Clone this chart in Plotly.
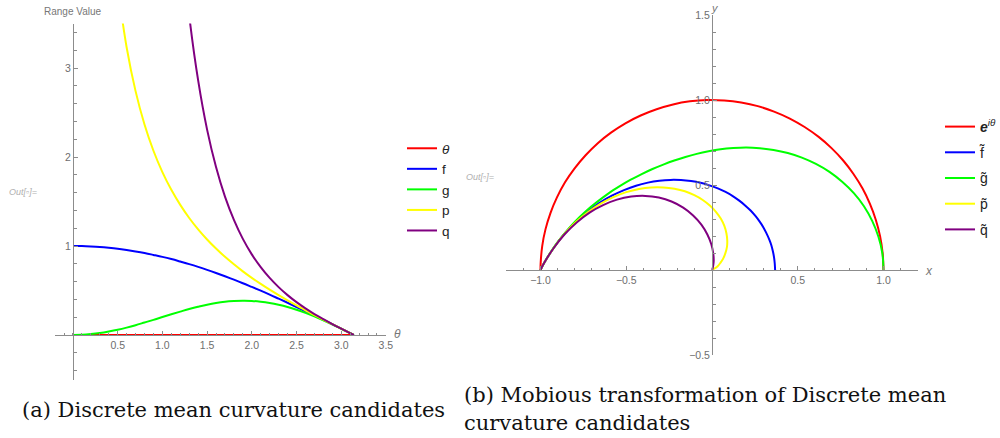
import plotly.graph_objects as go

# ---------------- data: (a) candidates vs theta ----------------
theta = [0, 0.1, 0.2, 0.3, 0.4, 0.5, 0.6, 0.7, 0.8, 0.9, 1.0, 1.1, 1.2, 1.3, 1.4, 1.5,
         1.6, 1.7, 1.8, 1.9, 2.0, 2.1, 2.2, 2.3, 2.4, 2.5, 2.6, 2.7, 2.8, 2.9, 3.0, 3.1, 3.1416]
theta_zero = [0] * 33
f_vals = [1, 0.999, 0.995, 0.989, 0.98, 0.969, 0.955, 0.939, 0.921, 0.9, 0.878, 0.853, 0.825,
          0.796, 0.765, 0.732, 0.697, 0.66, 0.622, 0.582, 0.54, 0.498, 0.454, 0.408, 0.362,
          0.315, 0.267, 0.219, 0.17, 0.121, 0.071, 0.021, 0]
g_vals = [0, 0.002, 0.01, 0.022, 0.039, 0.059, 0.083, 0.11, 0.14, 0.17, 0.202, 0.233, 0.263,
          0.292, 0.317, 0.34, 0.359, 0.373, 0.381, 0.385, 0.383, 0.374, 0.36, 0.34, 0.315,
          0.284, 0.248, 0.209, 0.165, 0.119, 0.07, 0.021, 0]
theta_p = [0.5, 0.6, 0.7, 0.8, 0.9, 1.0, 1.1, 1.2, 1.3, 1.4, 1.5, 1.6, 1.7, 1.8, 1.9, 2.0,
           2.1, 2.2, 2.3, 2.4, 2.5, 2.6, 2.7, 2.8, 2.9, 3.0, 3.1, 3.1416]
p_vals = [3.916, 3.233, 2.74, 2.365, 2.07, 1.83, 1.631, 1.462, 1.315, 1.187, 1.073, 0.971,
          0.878, 0.794, 0.715, 0.642, 0.574, 0.509, 0.448, 0.389, 0.332, 0.278, 0.224, 0.173,
          0.121, 0.071, 0.021, 0]
theta_q = [1.2, 1.3, 1.4, 1.5, 1.6, 1.7, 1.8, 1.9, 2.0, 2.1, 2.2, 2.3, 2.4, 2.5, 2.6, 2.7,
           2.8, 2.9, 3.0, 3.1, 3.1416]
q_vals = [4.587, 3.589, 2.86, 2.308, 1.887, 1.555, 1.294, 1.08, 0.906, 0.763, 0.641, 0.538,
          0.448, 0.369, 0.299, 0.235, 0.178, 0.123, 0.071, 0.021, 0]

# ---------------- data: (b) transformed curves in the plane ----------------
red_x = [1, 0.995, 0.98, 0.955, 0.921, 0.878, 0.825, 0.765, 0.697, 0.622, 0.54, 0.454, 0.362,
         0.267, 0.17, 0.071, -0.029, -0.129, -0.227, -0.323, -0.416, -0.505, -0.589, -0.666,
         -0.737, -0.801, -0.857, -0.904, -0.942, -0.971, -0.99, -0.999, -1]
red_y = [0, 0.1, 0.199, 0.296, 0.389, 0.479, 0.565, 0.644, 0.717, 0.783, 0.841, 0.891, 0.932,
         0.964, 0.985, 0.997, 1, 0.992, 0.974, 0.946, 0.909, 0.863, 0.808, 0.746, 0.675, 0.598,
         0.516, 0.427, 0.335, 0.239, 0.141, 0.042, 0]
blue_x = [0.368, 0.366, 0.362, 0.355, 0.346, 0.333, 0.317, 0.299, 0.277, 0.253, 0.225, 0.193,
          0.159, 0.121, 0.079, 0.034, -0.015, -0.067, -0.122, -0.181, -0.242, -0.307, -0.374,
          -0.443, -0.513, -0.584, -0.656, -0.726, -0.795, -0.861, -0.922, -0.979, -1]
blue_y = [0, 0.037, 0.073, 0.11, 0.146, 0.182, 0.217, 0.252, 0.286, 0.318, 0.35, 0.38, 0.408,
          0.435, 0.459, 0.48, 0.498, 0.513, 0.523, 0.529, 0.53, 0.525, 0.514, 0.496, 0.47,
          0.437, 0.395, 0.343, 0.283, 0.212, 0.131, 0.041, 0]
green_x = [1, 0.993, 0.97, 0.934, 0.886, 0.827, 0.759, 0.685, 0.606, 0.524, 0.442, 0.359,
           0.279, 0.2, 0.124, 0.05, -0.02, -0.089, -0.155, -0.22, -0.284, -0.347, -0.41,
           -0.474, -0.538, -0.603, -0.668, -0.734, -0.799, -0.862, -0.923, -0.979, -1]
green_y = [0, 0.1, 0.197, 0.289, 0.375, 0.452, 0.519, 0.577, 0.624, 0.661, 0.688, 0.706, 0.716,
           0.72, 0.717, 0.71, 0.698, 0.683, 0.665, 0.644, 0.62, 0.594, 0.564, 0.531, 0.493,
           0.451, 0.402, 0.347, 0.284, 0.212, 0.132, 0.041, 0]
yellow_x = [0.001, 0.007, 0.017, 0.033, 0.049, 0.065, 0.078, 0.087, 0.089, 0.084, 0.072, 0.052,
            0.024, -0.011, -0.054, -0.103, -0.158, -0.219, -0.284, -0.354, -0.426, -0.5,
            -0.575, -0.649, -0.722, -0.793, -0.86, -0.922, -0.979, -1]
yellow_y = [0, 0.003, 0.01, 0.022, 0.042, 0.067, 0.099, 0.135, 0.174, 0.216, 0.259, 0.301,
            0.341, 0.378, 0.412, 0.44, 0.463, 0.478, 0.486, 0.486, 0.477, 0.458, 0.429, 0.391,
            0.341, 0.282, 0.212, 0.131, 0.041, 0]
purple_x = [0, 0.001, 0.004, 0.007, 0.01, 0.007, -0.004, -0.027, -0.062, -0.11, -0.168, -0.236,
            -0.31, -0.389, -0.471, -0.554, -0.635, -0.714, -0.789, -0.858, -0.922, -0.979, -1]
purple_y = [0, 0.002, 0.01, 0.027, 0.056, 0.099, 0.151, 0.209, 0.267, 0.321, 0.367, 0.403,
            0.426, 0.436, 0.432, 0.414, 0.382, 0.338, 0.28, 0.212, 0.131, 0.041, 0]

# ---------------- labels & tick labels ----------------
left_names = ["<i>θ</i>", "f", "g", "p", "q"]
right_names = ["<b><i>e</i></b><sup><i>iθ</i></sup>",
               "f\u0303", "g\u0303", "p\u0303", "q\u0303"]
colors = ["#ff0000", "#0000ff", "#00ff00", "#ffff00", "#800080"]
left_xticks = [0.5, 1.0, 1.5, 2.0, 2.5, 3.0, 3.5]
left_xtext = ["0.5", "1.0", "1.5", "2.0", "2.5", "3.0", "3.5"]
left_yticks = [1, 2, 3]
left_ytext = ["1", "2", "3"]
right_xticks = [-1.0, -0.5, 0.5, 1.0]
right_xtext = ["\u22121.0", "\u22120.5", "0.5", "1.0"]
right_yticks = [-0.5, 0.5, 1.0, 1.5]
right_ytext = ["\u22120.5", "0.5", "1.0", "1.5"]

W, H = 1000, 438
def fx(px):
    return px / W
def fy(py):
    return 1 - py / H

fig = go.Figure()
left_series = [(theta, theta_zero), (theta, f_vals), (theta, g_vals), (theta_p, p_vals), (theta_q, q_vals)]
for (xs, ys), name, c in zip(left_series, left_names, colors):
    fig.add_trace(go.Scatter(x=xs, y=ys, mode="lines", name=name,
                             line=dict(color=c, width=2, shape="spline", smoothing=1),
                             xaxis="x", yaxis="y", legend="legend", hoverinfo="skip"))
right_series = [(red_x, red_y), (blue_x, blue_y), (green_x, green_y), (yellow_x, yellow_y), (purple_x, purple_y)]
for i, ((xs, ys), name, c) in enumerate(zip(right_series, right_names, colors)):
    fig.add_trace(go.Scatter(x=xs, y=ys, mode="lines", name=name,
                             line=dict(color=c, width=2, shape="spline", smoothing=1),
                             xaxis="x2", yaxis="y2", legend="legend2", legendgroup="r%d" % i,
                             hoverinfo="skip"))

axis_col = "#8c8c8c"
tick_font = dict(family="Liberation Sans, Arial, sans-serif", size=10.5, color="#6e6e6e")
common = dict(showgrid=False, zeroline=False, showline=True, linecolor=axis_col, linewidth=1,
              ticks="inside", ticklen=4, tickwidth=1, tickcolor=axis_col, tickfont=tick_font,
              anchor="free", fixedrange=True, automargin=False)
minor_common = dict(ticks="inside", ticklen=2.5, tickcolor=axis_col, tickwidth=1, tick0=0)

fig.update_layout(
    width=W, height=H, margin=dict(l=0, r=0, t=0, b=0, autoexpand=False),
    paper_bgcolor="white", plot_bgcolor="rgba(0,0,0,0)",
    xaxis=dict(domain=[fx(55.1), fx(385.9)], range=[-0.2, 3.5], position=fy(335),
               tickvals=left_xticks, ticktext=left_xtext,
               minor=dict(dtick=0.1, **minor_common), **common),
    yaxis=dict(domain=[fy(379.5), fy(23.5)], range=[-0.5, 3.5], position=fx(73),
               tickvals=left_yticks, ticktext=left_ytext,
               minor=dict(dtick=0.2, **minor_common), **common),
    xaxis2=dict(domain=[fx(506.2), fx(917.8)], range=[-1.2, 1.2], position=fy(270),
                tickvals=right_xticks, ticktext=right_xtext,
                minor=dict(dtick=0.1, **minor_common), **common),
    yaxis2=dict(domain=[fy(355), fy(15)], range=[-0.5, 1.5], position=fx(712),
                tickvals=right_yticks, ticktext=right_ytext,
                minor=dict(dtick=0.1, **minor_common), **common),
    legend=dict(x=fx(402), y=fy(133), xanchor="left", yanchor="top",
                bgcolor="rgba(0,0,0,0)", font=dict(family="Liberation Sans, Arial", size=13.5, color="#222222"),
                tracegroupgap=0),
    legend2=dict(x=fx(940), y=fy(111), xanchor="left", yanchor="top", traceorder="grouped",
                 bgcolor="rgba(0,0,0,0)", font=dict(family="Liberation Sans, Arial", size=14, color="#222222"),
                 tracegroupgap=4.5),
    showlegend=True,
)

gray_lbl = "#777777"
cap_font = dict(family="DejaVu Serif, serif", size=21, color="#111111")
ann = [
    dict(text="Range Value", x=fx(73), y=fy(11), xanchor="center", yanchor="middle",
         font=dict(family="Liberation Sans, Arial", size=10, color=gray_lbl)),
    dict(text="<i>θ</i>", x=fx(392), y=fy(334), xanchor="left", yanchor="middle",
         font=dict(family="Liberation Sans, Arial", size=12, color=gray_lbl)),
    dict(text="<i>x</i>", x=fx(929), y=fy(271), xanchor="center", yanchor="middle",
         font=dict(family="Liberation Sans, Arial", size=12, color=gray_lbl)),
    dict(text="<i>y</i>", x=fx(715), y=fy(8), xanchor="center", yanchor="middle",
         font=dict(family="Liberation Sans, Arial", size=11, color=gray_lbl)),
    dict(text="<i>Out[▫]=</i>", x=fx(23), y=fy(192), xanchor="center", yanchor="middle",
         font=dict(family="Liberation Sans, Arial", size=9, color="#b0b0b0")),
    dict(text="<i>Out[▫]=</i>", x=fx(480), y=fy(177), xanchor="center", yanchor="middle",
         font=dict(family="Liberation Sans, Arial", size=9, color="#b0b0b0")),
    dict(text="(a) Discrete mean curvature candidates", x=fx(20), y=fy(410), xanchor="left",
         yanchor="middle", font=cap_font),
    dict(text="(b) Mobious transformation of Discrete mean", x=fx(462), y=fy(395), xanchor="left",
         yanchor="middle", font=cap_font),
    dict(text="curvature candidates", x=fx(462), y=fy(423), xanchor="left",
         yanchor="middle", font=cap_font),
]
for a in ann:
    fig.add_annotation(xref="paper", yref="paper", showarrow=False, **a)

fig.write_html("out.html", config={"displayModeBar": False},
               post_script="document.body.style.margin='0';document.body.style.overflow='hidden';")
